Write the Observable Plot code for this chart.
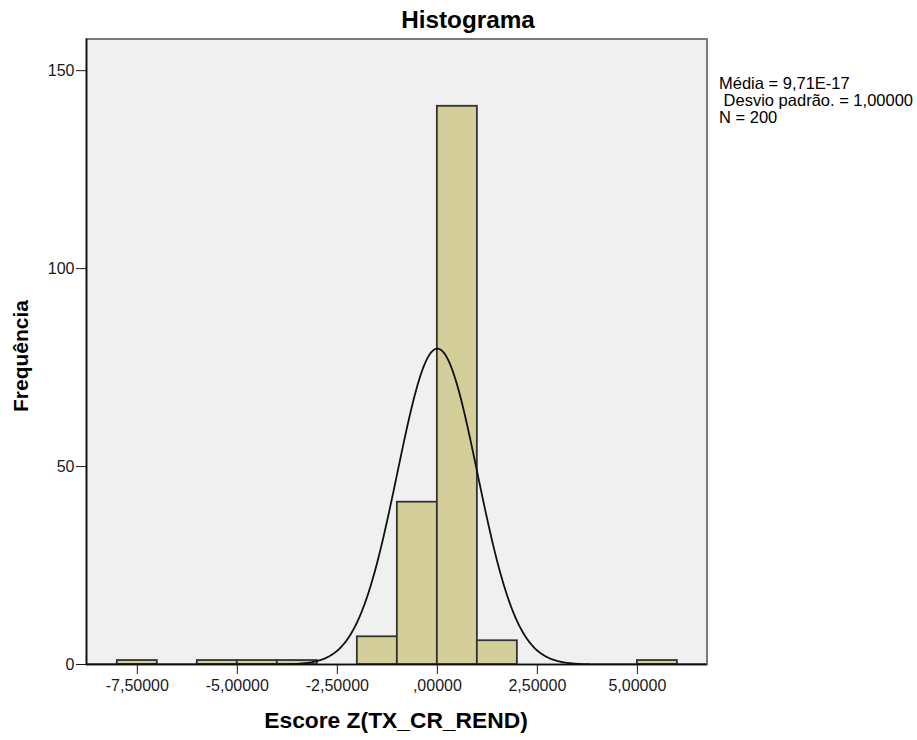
<!DOCTYPE html>
<html>
<head>
<meta charset="utf-8">
<script src="https://cdn.jsdelivr.net/npm/d3@7"></script>
<script src="https://cdn.jsdelivr.net/npm/@observablehq/plot@0.6"></script>
<style>
  html, body { margin: 0; padding: 0; background: #ffffff; }
  svg { display: block; }
</style>
</head>
<body>
<div id="chart"></div>
<script>
// ---- data ----
const binStart = [-8, -6, -5, -4, -2, -1, 0, 1, 5];
const binEnd   = [-7, -5, -4, -3, -1, 0, 1, 2, 6];
const counts   = [1, 1, 1, 1, 7, 41, 141, 6, 1];
const xTicks = [-7.5, -5, -2.5, 0, 2.5, 5];
const yTicks = [0, 50, 100, 150];
const statLines = ["Média = 9,71E-17", " Desvio padrão. = 1,00000", "N = 200"];
const statMean = 9.71e-17, statSd = 1.0, statN = 200, binWidth = 1;
const titleText = "Histograma";
const xLabel = "Escore Z(TX_CR_REND)";
const yLabel = "Frequência";

const xDomain = [-8.77, 6.74];
const yDomain = [0, 158];

const bins = binStart.map((s, i) => ({x1: s, x2: binEnd[i], count: counts[i]}));

// fitted normal curve (from the reported mean, sd and N)
const curve = d3.range(xDomain[0], xDomain[1] + 0.001, 0.02).map(x => ({
  x,
  y: statN * binWidth / (statSd * Math.sqrt(2 * Math.PI)) * Math.exp(-0.5 * ((x - statMean) / statSd) ** 2)
}));

const fmt = d => {
  let s = Math.abs(d).toFixed(5).replace(".", ",");
  if (Math.abs(d) < 1) s = s.slice(1);
  return (d < 0 ? "-" : "") + s;
};

const font = "'Liberation Sans', Arial, sans-serif";

const chart = Plot.plot({
  width: 917,
  height: 740,
  marginLeft: 86,
  marginRight: 210.5,
  marginTop: 38.5,
  marginBottom: 76,
  style: {fontFamily: font, fontSize: "16px", background: "#ffffff", color: "#1a1a1a"},
  x: {domain: xDomain},
  y: {domain: yDomain},
  marks: [
    Plot.frame({fill: "#f0f0f0", stroke: "#7a7a7a", strokeWidth: 2}),
    Plot.rectY(bins, {x1: "x1", x2: "x2", y: "count", fill: "#d3ce9a", stroke: "#333333", strokeWidth: 1.8}),
    Plot.line(curve, {x: "x", y: "y", stroke: "#111", strokeWidth: 1.8, clip: true}),
    Plot.ruleY([yDomain[0]], {stroke: "#111", strokeWidth: 1.6}),
    Plot.ruleX([xDomain[0]], {stroke: "#111", strokeWidth: 1.6}),
    Plot.axisX({ticks: xTicks, tickFormat: fmt, tickSize: 10, tickPadding: 5, label: null, fontSize: 16, color: "#1a1a1a"}),
    Plot.axisY({ticks: yTicks, tickSize: 10, tickPadding: 2, label: null, fontSize: 16, color: "#1a1a1a"})
  ]
});

document.getElementById("chart").appendChild(chart);

const svg = d3.select(chart);
svg.append("text")
  .attr("x", 468).attr("y", 28)
  .attr("text-anchor", "middle")
  .attr("font-family", font).attr("font-weight", "bold").attr("font-size", 24.3)
  .attr("fill", "#000")
  .text(titleText);

svg.append("text")
  .attr("x", 396).attr("y", 728)
  .attr("text-anchor", "middle")
  .attr("font-family", font).attr("font-weight", "bold").attr("font-size", 22.8)
  .attr("fill", "#000")
  .text(xLabel);

svg.append("text")
  .attr("transform", "translate(28,356) rotate(-90)")
  .attr("text-anchor", "middle")
  .attr("font-family", font).attr("font-weight", "bold").attr("font-size", 21)
  .attr("fill", "#000")
  .text(yLabel);

const st = svg.append("text")
  .attr("font-family", font).attr("font-size", 16.5).attr("fill", "#000")
  .attr("text-anchor", "start")
  .attr("xml:space", "preserve").style("white-space", "pre");
statLines.forEach((t, i) => {
  st.append("tspan").attr("x", 719).attr("y", 89 + i * 17).attr("text-anchor", "start").text(t);
});
</script>
</body>
</html>
